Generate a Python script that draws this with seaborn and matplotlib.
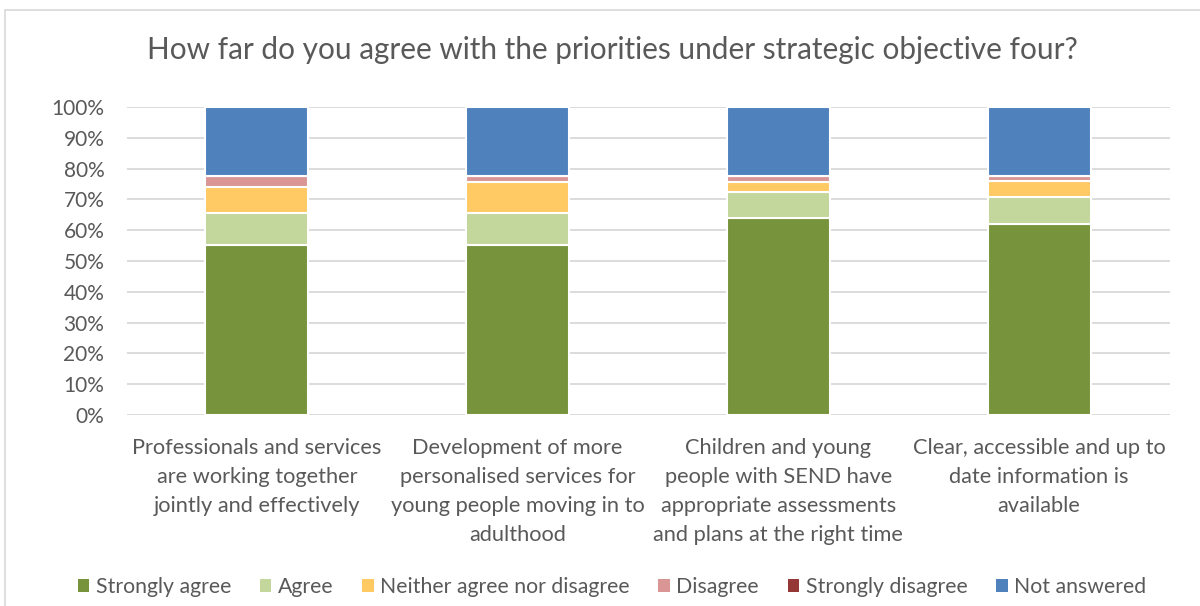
import matplotlib
matplotlib.use("Agg")
import matplotlib.pyplot as plt
from matplotlib.patches import Rectangle, Patch
from matplotlib.ticker import PercentFormatter
import numpy as np
import pandas as pd
import seaborn as sns

categories = [
    "Professionals and services\nare working together\njointly and effectively",
    "Development of more\npersonalised services for\nyoung people moving in to\nadulthood",
    "Children and young\npeople with SEND have\nappropriate assessments\nand plans at the right time",
    "Clear, accessible and up to\ndate information is\navailable",
]
responses = ["Strongly agree", "Agree", "Neither agree nor disagree",
             "Disagree", "Strongly disagree", "Not answered"]
strongly_agree = [55.2, 55.2, 63.8, 62.1]
agree = [10.3, 10.3, 8.6, 8.6]
neither = [8.6, 10.3, 3.4, 5.2]
disagree = [3.4, 1.7, 1.7, 1.7]
strongly_disagree = [0.0, 0.0, 0.0, 0.0]
not_answered = [22.4, 22.4, 22.4, 22.4]
colors = ["#77933C", "#C3D69B", "#FFC964", "#D99694", "#953735", "#4F81BD"]

series = [strongly_agree, agree, neither, disagree, strongly_disagree, not_answered]
df = pd.DataFrame({
    "category": [c for c in categories for _ in responses],
    "response": responses * len(categories),
    "value": [series[j][i] / 100 for i in range(len(categories)) for j in range(len(responses))],
})

sns.set_theme(style="white")
plt.rcParams["font.family"] = ["Lato", "DejaVu Sans"]
text_color = "#595959"

fig = plt.figure(figsize=(12, 6.06), dpi=100)
ax = fig.add_axes([126.5 / 1200, 1 - 415 / 606, 1043 / 1200, 308 / 606])

# stacked bars: each response sits on top of the running total
bottom = np.zeros(len(categories))
for resp, col in zip(responses, colors):
    sub = df[df["response"] == resp].set_index("category").loc[categories]
    vals = sub["value"].to_numpy()
    sns.barplot(x=categories, y=vals, bottom=bottom, color=col, saturation=1, width=0.395,
                edgecolor="white", linewidth=1.5, ax=ax, order=categories,
                zorder=3, err_kws={"linewidth": 0})
    bottom = bottom + vals

ax.set_ylim(0, 1)
ax.set_xlim(-0.5, len(categories) - 0.5)
ax.set_yticks(np.arange(0, 1.01, 0.1))
ax.yaxis.set_major_formatter(PercentFormatter(1.0, decimals=0))
ax.grid(axis="y", color="#D9D9D9", linewidth=1.3, zorder=0)
ax.grid(axis="x", visible=False)
for s in ax.spines.values():
    s.set_visible(False)
ax.tick_params(axis="y", length=0, labelsize=15, colors=text_color, pad=16)
ax.tick_params(axis="x", length=0, labelsize=15.7, colors=text_color, pad=16.5)
ax.set_xlabel("")
ax.set_ylabel("")
for lbl in ax.get_xticklabels():
    lbl.set_linespacing(1.56)
    lbl.set_horizontalalignment("center")

fig.text(612 / 1200, 1 - 50 / 606, "How far do you agree with the priorities under strategic objective four?",
         ha="center", va="center", fontsize=21.4, color=text_color)

handles = [Patch(facecolor=c, edgecolor="none") for c in colors]
fig.legend(handles, responses, loc="center", bbox_to_anchor=(612 / 1200, 1 - 587 / 606), ncol=6,
           frameon=False, fontsize=15.3, handlelength=0.55, handleheight=0.55,
           handletextpad=0.3, columnspacing=1.35, labelcolor=text_color)

fig.patches.append(Rectangle((5 / 1200, -0.02), 1.1, 1 - 10 / 606 + 0.02, transform=fig.transFigure,
                             fill=False, edgecolor="#D9D9D9", linewidth=1.2))

fig.savefig("out.png", dpi=100, facecolor="white")
